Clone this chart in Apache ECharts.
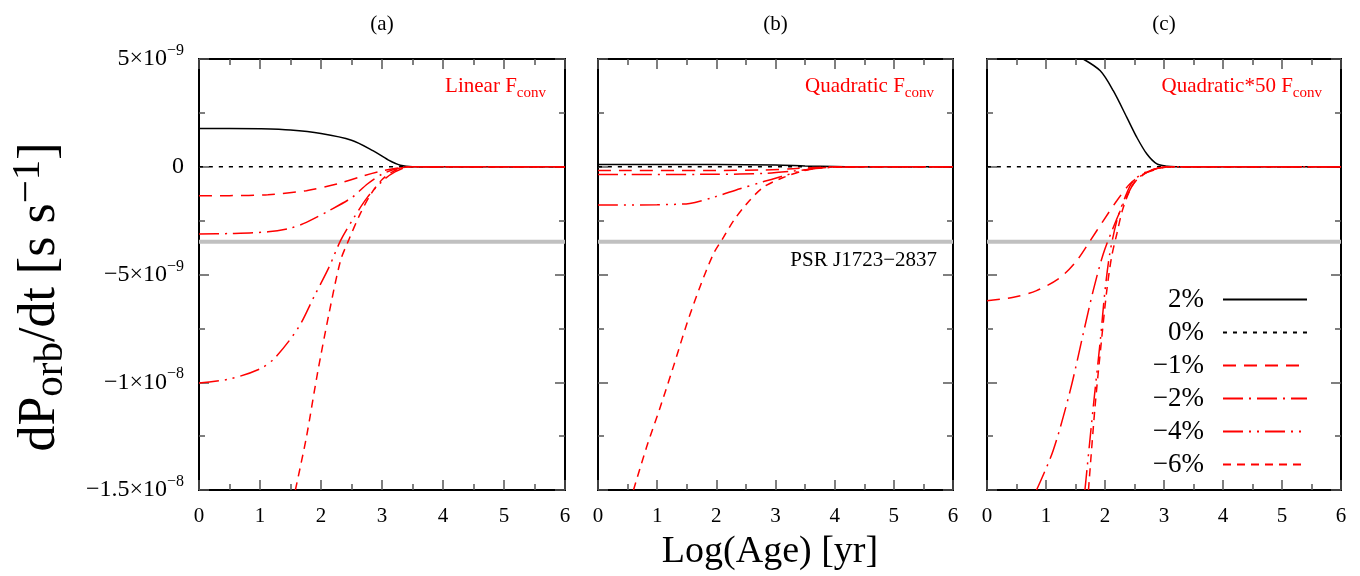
<!DOCTYPE html>
<html><head><meta charset="utf-8">
<script src="https://cdn.jsdelivr.net/npm/echarts@6/dist/echarts.min.js"></script>
<style>html,body{margin:0;padding:0;background:#fff}#c{width:1360px;height:576px}</style>
</head><body><div id="c"></div>
<script>
const FONT = "'Liberation Serif','Times New Roman',serif";
const seriesNames = ['2%', '0%', '−1%', '−2%', '−4%', '−6%'];
const panelLabels = ['(a)', '(b)', '(c)'];
const panelNotes = ['Linear F', 'Quadratic F', 'Quadratic*50 F'];
const noteSub = 'conv';
const psrValue = -3.48;          // units of 1e-9 s/s
const psrLabel = 'PSR J1723−2837';
const xMin = 0, xMax = 6, xStep = 1;
const yMin = -15, yMax = 5, yStep = 5;   // units of 1e-9
const yTickValues = [5, 0, -5, -10, -15];
const yTickMant = ['5×10', '0', '−5×10', '−1×10', '−1.5×10'];
const yTickExp = ['−9', '', '−9', '−8', '−8'];

// Panel (a) Linear F_conv  — [log age, dPorb/dt in 1e-9 s/s]
const a_p2 = [[0,1.78],[0.5,1.78],[1,1.76],[1.5,1.70],[2,1.54],[2.5,1.23],[2.85,0.75],[3.1,0.32],[3.3,0.07],[3.5,0],[6,0]];
const a_0  = [[0,0],[6,0]];
const a_m1 = [[0,-1.35],[0.5,-1.34],[1.13,-1.30],[1.76,-1.11],[2.26,-0.80],[2.70,-0.42],[3.01,-0.19],[3.26,-0.06],[3.5,0],[6,0]];
const a_m2 = [[0,-3.12],[0.5,-3.10],[1.13,-3.02],[1.5,-2.85],[1.76,-2.58],[2.13,-2.04],[2.51,-1.42],[2.76,-0.80],[3.01,-0.33],[3.26,-0.08],[3.5,0],[6,0]];
const a_m4 = [[0,-10.04],[0.5,-9.85],[1,-9.38],[1.25,-8.85],[1.63,-7.46],[1.88,-6.06],[2.13,-4.67],[2.32,-3.43],[2.51,-2.5],[2.76,-1.42],[3.01,-0.65],[3.2,-0.26],[3.45,0],[6,0]];
const a_m6 = [[1.58,-15],[1.76,-12.56],[1.94,-9.62],[2.13,-6.83],[2.32,-4.36],[2.45,-3.43],[2.64,-2.2],[2.82,-1.26],[3.01,-0.57],[3.2,-0.19],[3.45,0],[6,0]];

// Panel (b) Quadratic F_conv
const b_p2 = [[0,0.1],[2,0.1],[3,0.08],[3.5,0.04],[4,0.01],[4.3,0],[6,0]];
const b_0  = [[0,0],[6,0]];
const b_m1 = [[0,-0.17],[2,-0.17],[2.8,-0.15],[3.3,-0.09],[3.8,-0.02],[4.2,0],[6,0]];
const b_m2 = [[0,-0.36],[2,-0.35],[2.8,-0.31],[3.3,-0.2],[3.8,-0.06],[4.2,-0.01],[4.5,0],[6,0]];
const b_m4 = [[0,-1.78],[1,-1.76],[1.55,-1.70],[1.95,-1.42],[2.4,-1.02],[2.79,-0.70],[3.1,-0.45],[3.5,-0.15],[3.81,-0.03],[4.2,0],[6,0]];
const b_m6 = [[0.6,-15],[0.82,-13.02],[1.05,-11.17],[1.27,-9.31],[1.5,-7.30],[1.72,-5.6],[1.95,-4.05],[2.12,-3.28],[2.29,-2.51],[2.51,-1.73],[2.79,-0.96],[3.13,-0.50],[3.47,-0.19],[3.81,-0.05],[4.2,0],[6,0]];

// Panel (c) Quadratic*50 F_conv
const c_p2 = [[1.63,5.0],[1.92,4.45],[2.14,3.53],[2.37,2.29],[2.54,1.36],[2.71,0.59],[2.88,0.13],[3.05,0.02],[3.2,0],[6,0]];
const c_0  = [[0,0],[6,0]];
const c_m1 = [[0,-6.22],[0.45,-6.06],[0.84,-5.75],[1.24,-5.14],[1.52,-4.36],[1.75,-3.43],[1.97,-2.51],[2.20,-1.58],[2.42,-0.80],[2.65,-0.34],[2.88,-0.11],[3.1,0],[6,0]];
const c_m2 = [[0.84,-15],[1.12,-13.18],[1.41,-10.39],[1.63,-7.76],[1.80,-5.75],[1.97,-4.05],[2.14,-2.82],[2.31,-1.73],[2.48,-0.80],[2.65,-0.34],[2.88,-0.08],[3.1,0],[6,0]];
const c_m4 = [[1.66,-15],[1.80,-11.17],[1.92,-8.07],[2.0,-5.75],[2.08,-4.05],[2.20,-2.51],[2.34,-1.42],[2.48,-0.65],[2.71,-0.22],[2.93,-0.05],[3.1,0],[6,0]];
const c_m6 = [[1.72,-15],[1.83,-11.17],[1.94,-8.07],[2.03,-5.75],[2.11,-4.21],[2.20,-3.12],[2.31,-1.89],[2.48,-0.80],[2.71,-0.26],[2.93,-0.05],[3.1,0],[6,0]];

const panelData = [
  [a_p2, a_0, a_m1, a_m2, a_m4, a_m6],
  [b_p2, b_0, b_m1, b_m2, b_m4, b_m6],
  [c_p2, c_0, c_m1, c_m2, c_m4, c_m6]
];

// styles
const RED = '#ff0000';
const lineStyles = [
  {color: '#000', type: 'solid'},
  {color: '#000', type: [4, 6]},
  {color: RED, type: [13, 8]},
  {color: RED, type: [20, 6, 2, 6]},
  {color: RED, type: [20, 6, 2, 6, 2, 6]},
  {color: RED, type: [8, 6]}
];
const gridBoxes = [
  {left: 199, top: 59, width: 366, height: 431},
  {left: 598, top: 59, width: 355, height: 431},
  {left: 987, top: 59, width: 354, height: 431}
];

const chart = echarts.init(document.getElementById('c'), null, {renderer: 'canvas'});

const tickStyle = {color: '#555', width: 1.5};
const grid = [], xAxis = [], yAxis = [], series = [];
gridBoxes.forEach((g, p) => {
  grid.push(Object.assign({show: true, borderColor: '#000', borderWidth: 2, backgroundColor: 'transparent', containLabel: false}, g));
  const xBase = {gridIndex: p, type: 'value', min: xMin, max: xMax, interval: xStep,
    axisLine: {show: false, onZero: false}, splitLine: {show: false},
    axisTick: {show: true, inside: true, length: 10, lineStyle: tickStyle},
    minorTick: {show: true, splitNumber: 2, length: 6, lineStyle: tickStyle},
    minorSplitLine: {show: false}};
  xAxis.push(Object.assign({}, xBase, {position: 'bottom',
    axisLabel: {show: true, margin: 16, fontSize: 21, fontFamily: FONT, color: '#000'}}));
  xAxis.push(Object.assign({}, xBase, {position: 'top', axisLabel: {show: false}}));
  const yBase = {gridIndex: p, type: 'value', min: yMin, max: yMax, interval: yStep,
    axisLine: {show: false, onZero: false}, splitLine: {show: false},
    axisTick: {show: true, inside: true, length: 10, lineStyle: tickStyle},
    minorTick: {show: true, splitNumber: 2, length: 6, lineStyle: tickStyle},
    minorSplitLine: {show: false}};
  yAxis.push(Object.assign({}, yBase, {position: 'left',
    axisLabel: {show: p === 0, margin: 15, color: '#000',
      formatter: function (v) {
        const i = yTickValues.indexOf(v);
        if (i < 0) return '';
        return '{b|' + yTickMant[i] + '}' + (yTickExp[i] ? '{s|' + yTickExp[i] + '}' : '');
      },
      rich: {
        b: {fontSize: 24, fontFamily: FONT, color: '#000', lineHeight: 32},
        s: {fontSize: 16, fontFamily: FONT, color: '#000', lineHeight: 16, verticalAlign: 'top'}
      }}}));
  yAxis.push(Object.assign({}, yBase, {position: 'right', axisLabel: {show: false}}));

  series.push({type: 'line', name: 'PSR', xAxisIndex: 2 * p, yAxisIndex: 2 * p,
    data: [[xMin, psrValue], [xMax, psrValue]], symbol: 'none', silent: true, z: 1,
    lineStyle: {color: '#c0c0c0', width: 4}, itemStyle: {color: '#c0c0c0'}});
  panelData[p].forEach((d, k) => {
    series.push({type: 'line', name: seriesNames[k], xAxisIndex: 2 * p, yAxisIndex: 2 * p,
      data: d, symbol: 'none', showSymbol: false, smooth: 0.3, silent: true, z: 2 + k,
      lineStyle: {color: lineStyles[k].color, width: 1.5, type: lineStyles[k].type},
      itemStyle: {color: lineStyles[k].color}});
  });
});

const graphic = [];
panelLabels.forEach((t, p) => {
  const g = gridBoxes[p];
  graphic.push({type: 'text', x: g.left + g.width / 2, y: 24, silent: true,
    style: {text: t, fontSize: 21, fontFamily: FONT, fill: '#000', align: 'center', verticalAlign: 'middle'}});
  graphic.push({type: 'text', x: g.left + g.width - 19, y: 86, silent: true,
    style: {text: '{m|' + panelNotes[p] + '}{s|' + noteSub + '}', align: 'right', verticalAlign: 'middle',
      rich: {m: {fontSize: 21, fontFamily: FONT, fill: RED, lineHeight: 30},
             s: {fontSize: 15, fontFamily: FONT, fill: RED, lineHeight: 15, verticalAlign: 'bottom'}}}});
});
graphic.push({type: 'text', x: 937, y: 260, silent: true,
  style: {text: psrLabel, fontSize: 21, fontFamily: FONT, fill: '#000', align: 'right', verticalAlign: 'middle'}});
graphic.push({type: 'text', x: 770, y: 552, silent: true,
  style: {text: 'Log(Age) [yr]', fontSize: 38, fontFamily: FONT, fill: '#000', align: 'center', verticalAlign: 'middle'}});
graphic.push({type: 'text', x: 40, y: 297, rotation: Math.PI / 2, silent: true,
  style: {text: '{m|dP}{sub|orb}{m|/dt [s s}{sup|−1}{m|]}', align: 'center', verticalAlign: 'middle',
    rich: {m: {fontSize: 52, fontFamily: FONT, fill: '#000', lineHeight: 64},
           sub: {fontSize: 41, fontFamily: FONT, fill: '#000', lineHeight: 40, verticalAlign: 'bottom'},
           sup: {fontSize: 41, fontFamily: FONT, fill: '#000', lineHeight: 40, verticalAlign: 'top'}}}});

chart.setOption({
  animation: false,
  backgroundColor: '#fff',
  grid: grid, xAxis: xAxis, yAxis: yAxis, series: series,
  legend: {data: seriesNames, orient: 'vertical', align: 'right', right: 52, top: 286,
    itemWidth: 84, itemHeight: 20, itemGap: 6, padding: 0, selectedMode: false,
    itemStyle: {opacity: 0, borderWidth: 0},
    textStyle: {fontSize: 27, fontFamily: FONT, color: '#000', lineHeight: 20, padding: [0, 14, 0, 0]}},
  graphic: graphic
});
</script></body></html>
